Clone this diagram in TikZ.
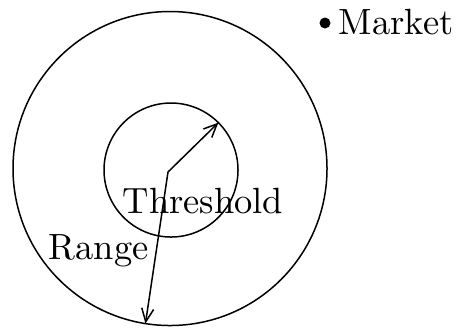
\documentclass[tikz,border=0pt]{standalone}
\usetikzlibrary{arrows.meta}
\tikzset{
  ring/.style={draw,circle,inner sep=0pt,outer sep=0pt,line width=0.45pt},
  lbl/.style={anchor=base west,inner sep=0pt,font=\fontsize{10.95}{13}\selectfont}
}
\begin{document}
\begin{tikzpicture}[x=0.3pt,y=-0.3pt,line width=0.45pt,>={Straight Barb[length=4pt,width=3.6pt]}]
\useasboundingbox (0,0) rectangle (461,335);

\node[ring,minimum size=94.2pt] (rng) at (170,168.5) {};
\node[ring,minimum size=40.2pt] (thr) at (171,170) {};
\coordinate (o) at (168,172);

\draw[->] (o) -- (thr.45.6);
\draw[->] (o) -- (rng.261.6);

\node[lbl] (thrlbl) at (122,213) {Threshold};
\node[lbl] (rnglbl) at (48,259) {Range};
\node[circle,fill,inner sep=0pt,minimum size=3.3pt] (dot) at (325,23) {};
\node[lbl] (mkt) at (338,34) {Market};
\end{tikzpicture}
\end{document}
